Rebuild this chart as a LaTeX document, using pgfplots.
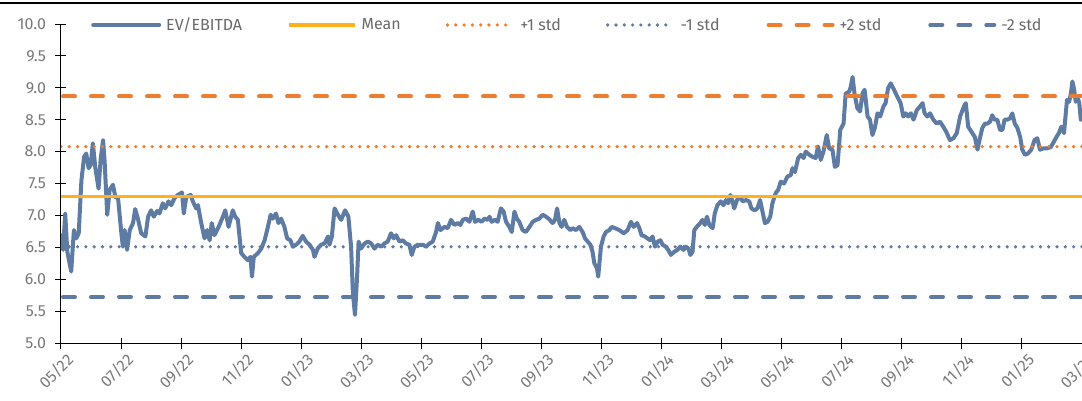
\documentclass[border=0pt]{standalone}
\usepackage{fontspec}
\setmainfont{Fira Sans}
\usepackage{pgfplots}
\pgfplotsset{compat=1.18}
\definecolor{evblue}{RGB}{94,124,163}
\definecolor{meanyellow}{RGB}{255,176,28}
\definecolor{stdorange}{RGB}{237,125,49}
\definecolor{labgray}{RGB}{120,120,120}
\definecolor{leggray}{RGB}{105,105,105}
\begin{document}
\begin{tikzpicture}
\begin{axis}[
  at={(0pt,0pt)}, anchor=south west,
  scale only axis, width=1021pt, height=319pt,
  xmin=0, xmax=34, ymin=5, ymax=10,
  axis x line*=bottom, axis y line*=left,
  axis line style={-, black, line width=1pt},
  xtick={0,2,...,34},
  xticklabels={05/22,07/22,09/22,11/22,01/23,03/23,05/23,07/23,09/23,11/23,01/24,03/24,05/24,07/24,09/24,11/24,01/25,03/25},
  ytick={5,5.5,...,10},
  tick align=center, major tick length=11pt,
  tick style={black, line width=1pt},
  /pgf/number format/assume math mode=true,
  tick label style={font=\fontsize{16}{19}\selectfont, text=labgray},
  yticklabel style={/pgf/number format/fixed, /pgf/number format/fixed zerofill, /pgf/number format/precision=1, xshift=-6pt},
  xticklabel style={rotate=45, anchor=north east, xshift=4pt, yshift=-2pt},
  legend columns=6,
  legend image code/.code={\draw[#1] (0pt,0pt) -- (66pt,0pt);},
  legend style={draw=none, fill=none, inner sep=0pt, font=\fontsize{16}{19}\selectfont, text=leggray,
    at={(0.0294,0.997)}, anchor=west,
    /tikz/every odd column/.append style={column sep=3pt},
    /tikz/every even column/.append style={column sep=43pt}},
]
\addplot[evblue, line width=4pt, line join=round, line cap=round] table {
x y
0.01 6.69
0.07 6.46
0.14 7.03
0.21 6.43
0.34 6.12
0.43 6.77
0.51 6.64
0.59 6.72
0.68 7.55
0.77 7.92
0.84 7.97
0.92 7.74
0.99 7.79
1.06 8.13
1.14 7.76
1.25 7.42
1.32 7.87
1.40 8.18
1.45 7.87
1.54 7.01
1.62 7.40
1.73 7.48
1.81 7.29
1.90 7.27
2.01 6.72
2.06 6.51
2.12 6.77
2.20 6.46
2.29 6.77
2.40 6.88
2.47 7.10
2.56 6.95
2.67 6.72
2.81 6.67
2.90 6.98
3.00 7.08
3.09 6.98
3.20 7.07
3.28 7.03
3.39 7.19
3.47 7.11
3.58 7.22
3.67 7.16
3.78 7.27
3.89 7.32
4.03 7.36
4.09 7.03
4.17 7.29
4.32 7.32
4.39 7.22
4.50 7.11
4.56 7.16
4.67 6.88
4.78 6.64
4.87 6.77
4.95 6.61
5.02 6.88
5.11 6.69
5.25 6.82
5.39 6.98
5.47 7.08
5.58 6.82
5.72 7.08
5.80 6.98
5.89 6.93
6.00 6.41
6.11 6.35
6.22 6.30
6.31 6.35
6.36 6.04
6.42 6.35
6.56 6.41
6.67 6.48
6.78 6.61
6.89 6.82
6.98 7.01
7.05 6.95
7.16 7.03
7.24 6.88
7.33 6.95
7.44 6.82
7.53 6.64
7.64 6.61
7.72 6.51
7.83 6.54
7.94 6.59
8.05 6.68
8.16 6.59
8.28 6.54
8.39 6.46
8.44 6.35
8.55 6.48
8.66 6.54
8.78 6.56
8.89 6.67
8.94 6.54
9.02 6.67
9.11 7.11
9.22 7.01
9.33 6.93
9.46 7.08
9.57 6.98
9.66 6.51
9.72 5.78
9.79 5.44
9.86 6.04
9.91 6.59
9.99 6.48
10.11 6.56
10.22 6.59
10.33 6.56
10.44 6.48
10.55 6.54
10.66 6.51
10.77 6.56
10.88 6.59
10.99 6.72
11.08 6.64
11.16 6.69
11.27 6.59
11.38 6.61
11.49 6.56
11.60 6.54
11.68 6.38
11.77 6.51
11.88 6.54
11.99 6.54
12.05 6.54
12.16 6.51
12.27 6.56
12.38 6.59
12.49 6.74
12.55 6.88
12.64 6.77
12.77 6.82
12.88 6.80
12.99 6.93
13.10 6.85
13.21 6.88
13.30 6.85
13.38 6.93
13.49 6.95
13.60 6.90
13.71 7.06
13.79 6.90
13.90 6.93
14.01 6.90
14.10 6.95
14.21 6.93
14.27 6.98
14.34 6.90
14.45 6.93
14.54 6.90
14.65 7.11
14.74 7.06
14.82 6.90
14.93 6.82
15.01 6.74
15.10 7.06
15.18 6.95
15.26 6.90
15.37 6.77
15.48 6.74
15.60 6.82
15.71 6.90
15.82 6.93
15.93 6.95
16.04 7.01
16.15 6.98
16.26 6.94
16.37 6.88
16.45 6.93
16.52 7.11
16.60 6.88
16.67 6.82
16.76 6.93
16.85 6.82
16.96 6.77
17.04 6.80
17.15 6.77
17.26 6.82
17.37 6.74
17.45 6.64
17.54 6.59
17.63 6.54
17.70 6.43
17.76 6.25
17.85 6.17
17.89 6.04
17.98 6.51
18.07 6.67
18.15 6.74
18.26 6.77
18.34 6.82
18.45 6.80
18.59 6.77
18.74 6.72
18.87 6.77
18.98 6.90
19.07 6.82
19.18 6.88
19.26 6.80
19.33 6.69
19.44 6.67
19.53 6.64
19.62 6.61
19.70 6.67
19.78 6.51
19.87 6.59
19.96 6.61
20.03 6.54
20.14 6.51
20.22 6.46
20.31 6.38
20.42 6.43
20.53 6.46
20.62 6.51
20.73 6.46
20.81 6.51
20.89 6.48
20.96 6.38
21.03 6.43
21.09 6.77
21.17 6.82
21.29 6.88
21.36 6.93
21.44 6.85
21.51 6.98
21.59 6.85
21.70 6.80
21.77 7.03
21.86 7.16
21.97 7.22
22.06 7.16
22.14 7.24
22.22 7.19
22.29 7.32
22.36 7.22
22.42 7.11
22.51 7.24
22.62 7.29
22.70 7.22
22.81 7.24
22.92 7.22
22.99 7.11
23.10 7.08
23.19 7.11
23.28 7.24
23.36 7.06
23.44 6.88
23.53 6.90
23.62 6.98
23.69 7.19
23.80 7.35
23.88 7.40
23.97 7.53
24.08 7.50
24.19 7.61
24.30 7.63
24.36 7.74
24.44 7.68
24.55 7.90
24.64 7.95
24.73 7.90
24.80 8.00
24.92 7.95
25.02 7.92
25.13 7.90
25.21 8.08
25.30 7.87
25.39 8.00
25.50 8.26
25.58 8.05
25.69 8.03
25.77 7.76
25.86 7.79
25.95 8.34
26.06 8.44
26.13 8.91
26.25 8.94
26.30 9.02
26.36 9.17
26.43 8.89
26.52 8.68
26.61 8.63
26.69 8.91
26.76 8.97
26.86 8.55
26.94 8.50
27.02 8.26
27.10 8.37
27.19 8.60
27.28 8.55
27.39 8.71
27.46 8.76
27.54 8.99
27.63 9.07
27.74 8.97
27.85 8.86
27.96 8.76
28.05 8.55
28.13 8.60
28.21 8.55
28.30 8.60
28.39 8.50
28.50 8.65
28.61 8.71
28.69 8.76
28.76 8.60
28.85 8.55
28.94 8.60
29.05 8.50
29.16 8.44
29.27 8.47
29.38 8.39
29.48 8.31
29.60 8.18
29.72 8.21
29.83 8.29
29.94 8.55
30.07 8.71
30.13 8.76
30.21 8.39
30.32 8.31
30.43 8.23
30.52 8.03
30.60 8.21
30.68 8.37
30.77 8.44
30.85 8.44
30.94 8.47
31.01 8.57
31.09 8.50
31.18 8.50
31.27 8.34
31.35 8.34
31.42 8.50
31.51 8.50
31.60 8.52
31.68 8.60
31.76 8.44
31.85 8.37
31.94 8.23
32.01 8.03
32.10 7.95
32.20 7.97
32.31 8.03
32.42 8.18
32.51 8.21
32.60 8.03
32.71 8.05
32.82 8.05
32.96 8.07
33.07 8.16
33.15 8.23
33.23 8.29
33.31 8.39
33.40 8.29
33.50 8.81
33.57 8.78
33.63 8.91
33.68 9.10
33.74 8.97
33.79 8.78
33.86 8.84
33.91 8.76
33.96 8.50
};
\addlegendentry{EV/EBITDA}
\addplot[meanyellow, line width=3.5pt] coordinates {(0,7.293) (34,7.293)};
\addlegendentry{Mean}
\addplot[stdorange, line width=3.6pt, line cap=round, dash pattern=on 0pt off 8.3pt] coordinates {(0,8.078) (34,8.078)};
\addlegendentry{+1 std}
\addplot[evblue, line width=3.6pt, line cap=round, dash pattern=on 0pt off 8.3pt] coordinates {(0,6.508) (34,6.508)};
\addlegendentry{-1 std}
\addplot[stdorange, line width=4pt, line cap=round, dash pattern=on 12pt off 16pt, dash phase=-2pt] coordinates {(0,8.864) (34,8.864)};
\addlegendentry{+2 std}
\addplot[evblue, line width=4pt, line cap=round, dash pattern=on 12pt off 16pt, dash phase=-2pt] coordinates {(0,5.723) (34,5.723)};
\addlegendentry{-2 std}
\end{axis}
\draw[black, line width=1.5pt] (-61pt,340pt) -- (1021pt,340pt);
\pgfresetboundingbox
\path (-61pt,-57pt) rectangle (1021pt,343pt);
\end{tikzpicture}
\end{document}
